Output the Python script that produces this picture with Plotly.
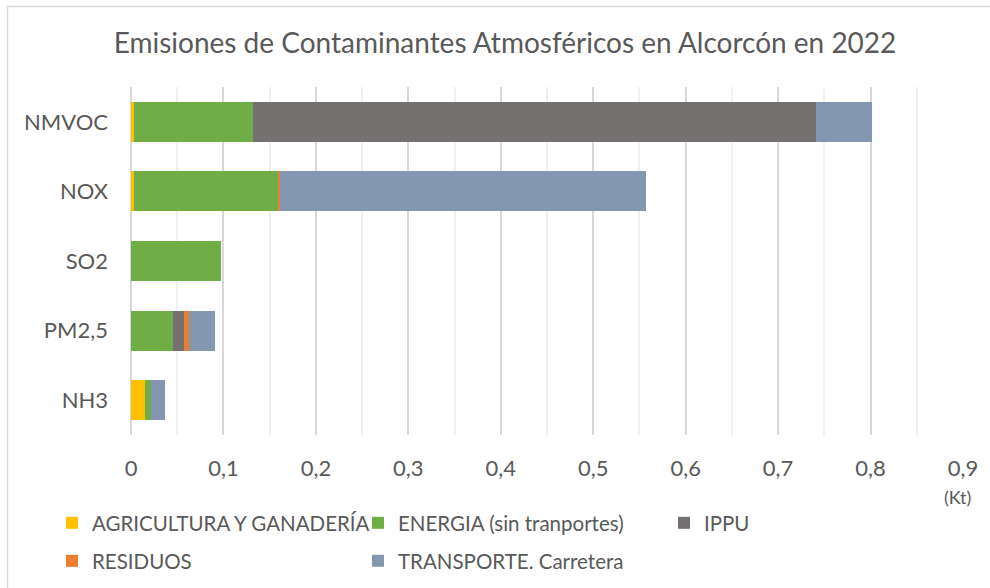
import plotly.graph_objects as go

# Emissions by pollutant (kt), split by source sector
pollutants = ["NMVOC", "NOX", "SO2", "PM2,5", "NH3"]
sectors = [
    "AGRICULTURA Y GANADERÍA",
    "ENERGIA (sin tranportes)",
    "IPPU",
    "RESIDUOS",
    "TRANSPORTE. Carretera",
]
agricultura = [0.003, 0.003, 0.0, 0.0, 0.0146]
energia = [0.1285, 0.1555, 0.097, 0.0449, 0.0073]
ippu = [0.609, 0.0, 0.0, 0.012, 0.0]
residuos = [0.0, 0.0025, 0.0, 0.0062, 0.0]
transporte = [0.0606, 0.396, 0.0, 0.028, 0.015]

tick_values = [0, 0.1, 0.2, 0.3, 0.4, 0.5, 0.6, 0.7, 0.8, 0.9]
tick_labels = ["0", "0,1", "0,2", "0,3", "0,4", "0,5", "0,6", "0,7", "0,8", "0,9"]

colors = ["#FFC000", "#70AD47", "#767171", "#ED7D31", "#8497B0"]
series = [agricultura, energia, ippu, residuos, transporte]
# legend grid: two columns on the left, IPPU alone in a third column
legend_ids = ["legend", "legend", "legend3", "legend2", "legend2"]

FONT = "Lato, 'Open Sans', sans-serif"
TEXT = "#595959"

W, H = 990, 588
L, R, T, B = 131, 27, 87, 153

fig = go.Figure()
for name, vals, col, leg in zip(sectors, series, colors, legend_ids):
    fig.add_trace(go.Bar(
        y=pollutants, x=vals, name=name, orientation="h",
        marker=dict(color=col, line=dict(width=0)),
        legend=leg,
    ))

legend_common = dict(
    orientation="h",
    entrywidth=261, entrywidthmode="pixels",
    itemwidth=30,
    font=dict(family=FONT, size=20.5, color=TEXT),
    bgcolor="rgba(0,0,0,0)",
    xref="container", yref="container",
    xanchor="left", yanchor="middle",
    traceorder="normal",
)

fig.update_layout(
    width=W, height=H,
    margin=dict(l=L, r=R, t=T, b=B, pad=0),
    paper_bgcolor="white", plot_bgcolor="white",
    barmode="stack", bargap=0.425,
    font=dict(family=FONT, color=TEXT),
    title=dict(
        text="Emisiones de Contaminantes Atmosféricos en Alcorcón en 2022",
        font=dict(family=FONT, size=28, color=TEXT),
        xref="container", yref="container",
        x=505 / W, y=1 - 43 / H, xanchor="center", yanchor="middle",
    ),
    xaxis=dict(
        range=[0, 0.9],
        tickvals=tick_values, ticktext=tick_labels,
        tickfont=dict(family=FONT, size=22, color=TEXT),
        showgrid=True, gridcolor="#D9D9D9", gridwidth=1.5,
        minor=dict(dtick=0.05, showgrid=True, gridcolor="#F0F0F0", gridwidth=1.5),
        zeroline=True, zerolinecolor="#D9D9D9", zerolinewidth=2,
        showline=False, ticks="", ticklabelstandoff=18,
        fixedrange=True,
    ),
    yaxis=dict(
        categoryorder="array", categoryarray=pollutants,
        autorange="reversed",
        tickfont=dict(family=FONT, size=22, color=TEXT),
        showgrid=False, showline=False, ticks="",
        ticklabelstandoff=22,
        fixedrange=True,
    ),
    legend=dict(legend_common, x=52 / W, y=1 - 523 / H),
    legend2=dict(legend_common, x=52 / W, y=1 - 561 / H),
    legend3=dict(legend_common, x=664 / W, y=1 - 523 / H),
    annotations=[dict(
        text="(Kt)", xref="paper", yref="paper",
        x=0.993, y=(435 - 497) / 348,
        xanchor="center", yanchor="middle", showarrow=False,
        font=dict(family=FONT, size=18, color=TEXT),
    )],
    shapes=[dict(
        type="rect", xref="paper", yref="paper",
        x0=(7.5 - L) / (W - L - R), x1=1.2,
        y0=-0.6, y1=(H - B - 6.5) / (H - T - B),
        line=dict(color="#D9D9D9", width=1.5), fillcolor="rgba(0,0,0,0)",
        layer="below",
    )],
)

fig.write_html("out.html")
